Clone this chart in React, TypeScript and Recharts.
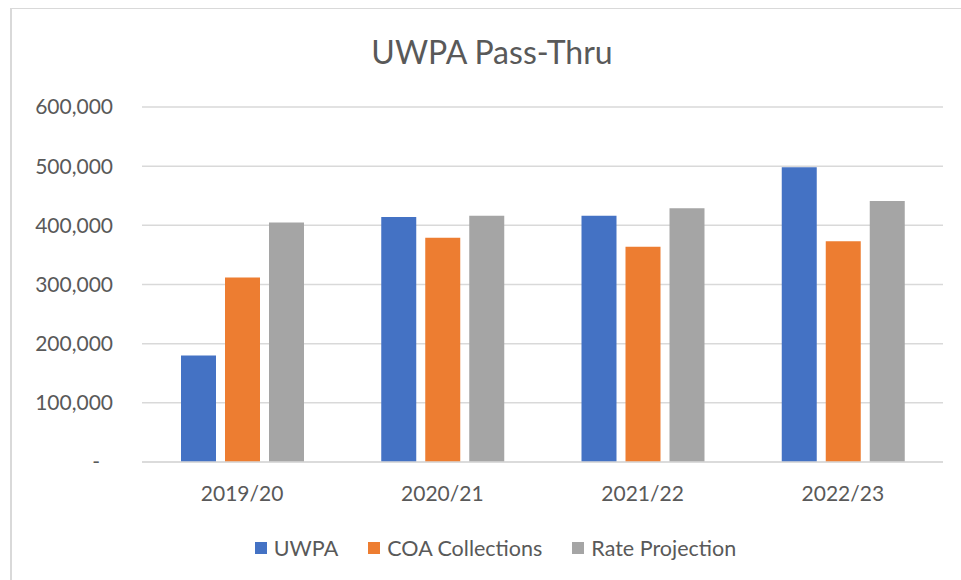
import React from "react";
import { BarChart, Bar, XAxis, YAxis, CartesianGrid, Legend } from "recharts";

const categories = ["2019/20", "2020/21", "2021/22", "2022/23"];
const uwpa = [180000, 414000, 416000, 498000];
const coaCollections = [312000, 379000, 364000, 373000];
const rateProjection = [405000, 416000, 429000, 441000];
const yTicks = [0, 100000, 200000, 300000, 400000, 500000, 600000];

const seriesInfo = [
  { key: "uwpa", name: "UWPA", color: "#4472C4" },
  { key: "coa", name: "COA Collections", color: "#ED7D31" },
  { key: "rate", name: "Rate Projection", color: "#A5A5A5" },
];

const data = categories.map((c, i) => ({
  name: c,
  uwpa: uwpa[i],
  coa: coaCollections[i],
  rate: rateProjection[i],
}));

const FONT = "Lato, 'Open Sans', sans-serif";
const TEXT = "#595959";

const YTick = (props: any) => {
  const { x, y, payload } = props;
  const v = payload.value as number;
  const label = v === 0 ? "-" : v.toLocaleString("en-US");
  return (
    <text
      x={v === 0 ? x - 13 : x}
      y={y}
      dy="0.355em"
      textAnchor="end"
      fill={TEXT}
      fontSize={21}
      fontFamily={FONT}
    >
      {label}
    </text>
  );
};

const LegendContent = () => (
  <div
    style={{
      display: "flex",
      justifyContent: "center",
      alignItems: "center",
      fontFamily: FONT,
      fontSize: 21.5,
      color: TEXT,
      height: 28,
    }}
  >
    {seriesInfo.map((s, i) => (
      <div
        key={s.key}
        style={{
          display: "flex",
          alignItems: "center",
          marginLeft: i === 0 ? 0 : 30,
        }}
      >
        <span
          style={{
            display: "inline-block",
            width: 12,
            height: 12,
            background: s.color,
            marginRight: 7,
          }}
        />
        <span>{s.name}</span>
      </div>
    ))}
  </div>
);

export default function App() {
  return (
    <div
      style={{
        position: "fixed",
        left: 0,
        top: 0,
        width: 961,
        height: 580,
        overflow: "hidden",
        background: "#ffffff",
      }}
    >
      <div
        style={{
          position: "absolute",
          left: 10,
          top: 8,
          width: 1000,
          height: 620,
          borderLeft: "2px solid #d9d9d9",
          borderTop: "1.5px solid #d9d9d9",
          boxSizing: "border-box",
        }}
      />
      <div style={{ position: "absolute", left: 0, top: 0 }}>
        <BarChart
          width={961}
          height={580}
          data={data}
          margin={{ top: 107, right: 18, bottom: 88, left: 0 }}
          barGap={9}
          barSize={35}
        >
          <text
            x={492}
            y={64}
            textAnchor="middle"
            fill={TEXT}
            fontSize={32}
            fontFamily={FONT}
          >
            UWPA Pass-Thru
          </text>
          <CartesianGrid
            vertical={false}
            stroke="#d9d9d9"
            strokeWidth={1.5}
          />
          <XAxis
            dataKey="name"
            height={30}
            axisLine={{ stroke: "#d9d9d9", strokeWidth: 1.5 }}
            tickLine={false}
            tickSize={0}
            tickMargin={24}
            tick={{ fill: TEXT, fontSize: 21, fontFamily: FONT }}
          />
          <YAxis
            width={142}
            domain={[0, 600000]}
            ticks={yTicks}
            axisLine={false}
            tickLine={false}
            tickSize={0}
            tickMargin={29}
            tick={<YTick />}
            interval={0}
          />
          <Legend
            layout="horizontal"
            verticalAlign="middle"
            align="center"
            content={<LegendContent />}
            wrapperStyle={{ position: "absolute", top: 534, left: 15, width: 961, height: 28 }}
          />
          {seriesInfo.map((s) => (
            <Bar
              key={s.key}
              dataKey={s.key}
              name={s.name}
              fill={s.color}
              isAnimationActive={false}
            />
          ))}
        </BarChart>
      </div>
    </div>
  );
}
